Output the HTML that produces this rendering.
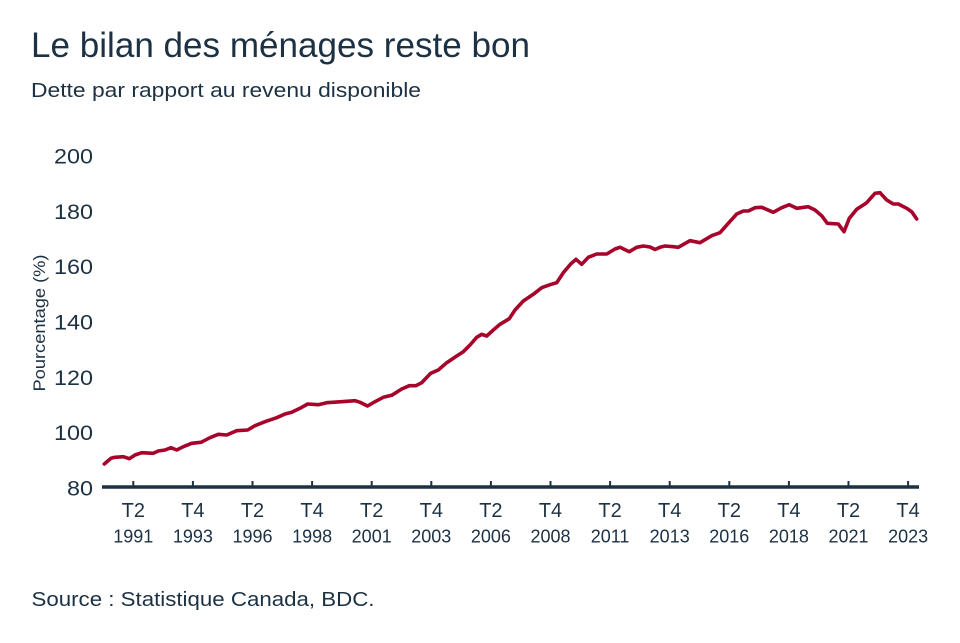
<!DOCTYPE html>
<html>
<head>
<meta charset="utf-8">
<style>
html,body{margin:0;padding:0;background:#fff;}
svg{display:block;}
text{font-family:"Liberation Sans",sans-serif;fill:#1c3143;}
</style>
</head>
<body>
<svg width="960" height="643" viewBox="0 0 960 643" xmlns="http://www.w3.org/2000/svg">
<rect width="960" height="643" fill="#fff"/>
<text x="31" y="57" font-size="35" textLength="499" lengthAdjust="spacingAndGlyphs">Le bilan des ménages reste bon</text>
<text x="31" y="97" font-size="20" textLength="390" lengthAdjust="spacingAndGlyphs">Dette par rapport au revenu disponible</text>

<g font-size="21" text-anchor="end">
<text x="93" y="163.5" textLength="39" lengthAdjust="spacingAndGlyphs">200</text>
<text x="93" y="218.8" textLength="39" lengthAdjust="spacingAndGlyphs">180</text>
<text x="93" y="274.2" textLength="39" lengthAdjust="spacingAndGlyphs">160</text>
<text x="93" y="329.5" textLength="39" lengthAdjust="spacingAndGlyphs">140</text>
<text x="93" y="384.8" textLength="39" lengthAdjust="spacingAndGlyphs">120</text>
<text x="93" y="440.2" textLength="39" lengthAdjust="spacingAndGlyphs">100</text>
<text x="93" y="495.5" textLength="26" lengthAdjust="spacingAndGlyphs">80</text>
</g>

<text transform="translate(45,323) rotate(-90)" font-size="17" text-anchor="middle" textLength="137" lengthAdjust="spacingAndGlyphs">Pourcentage (%)</text>

<line x1="102" y1="487" x2="919" y2="487" stroke="#1c3143" stroke-width="3.5"/>
<g stroke="#1c3143" stroke-width="2">
<line x1="133.3" y1="481" x2="133.3" y2="487"/>
<line x1="192.9" y1="481" x2="192.9" y2="487"/>
<line x1="252.5" y1="481" x2="252.5" y2="487"/>
<line x1="312.1" y1="481" x2="312.1" y2="487"/>
<line x1="371.7" y1="481" x2="371.7" y2="487"/>
<line x1="431.3" y1="481" x2="431.3" y2="487"/>
<line x1="490.9" y1="481" x2="490.9" y2="487"/>
<line x1="550.5" y1="481" x2="550.5" y2="487"/>
<line x1="610.1" y1="481" x2="610.1" y2="487"/>
<line x1="669.7" y1="481" x2="669.7" y2="487"/>
<line x1="729.3" y1="481" x2="729.3" y2="487"/>
<line x1="788.9" y1="481" x2="788.9" y2="487"/>
<line x1="848.5" y1="481" x2="848.5" y2="487"/>
<line x1="908.1" y1="481" x2="908.1" y2="487"/>
</g>

<g font-size="20" text-anchor="middle">
<text x="133.3" y="517">T2</text>
<text x="192.9" y="517">T4</text>
<text x="252.5" y="517">T2</text>
<text x="312.1" y="517">T4</text>
<text x="371.7" y="517">T2</text>
<text x="431.3" y="517">T4</text>
<text x="490.9" y="517">T2</text>
<text x="550.5" y="517">T4</text>
<text x="610.1" y="517">T2</text>
<text x="669.7" y="517">T4</text>
<text x="729.3" y="517">T2</text>
<text x="788.9" y="517">T4</text>
<text x="848.5" y="517">T2</text>
<text x="908.1" y="517">T4</text>
</g>
<g font-size="18" text-anchor="middle">
<text x="133.3" y="542.5">1991</text>
<text x="192.9" y="542.5">1993</text>
<text x="252.5" y="542.5">1996</text>
<text x="312.1" y="542.5">1998</text>
<text x="371.7" y="542.5">2001</text>
<text x="431.3" y="542.5">2003</text>
<text x="490.9" y="542.5">2006</text>
<text x="550.5" y="542.5">2008</text>
<text x="610.1" y="542.5">2011</text>
<text x="669.7" y="542.5">2013</text>
<text x="729.3" y="542.5">2016</text>
<text x="788.9" y="542.5">2018</text>
<text x="848.5" y="542.5">2021</text>
<text x="908.1" y="542.5">2023</text>
</g>

<polyline fill="none" stroke="#a6042b" stroke-width="3.6" stroke-linejoin="round" stroke-linecap="round" points="
104.3,464 111,458.3 115,457.3 123.3,456.7 129.3,458.7 135,455 141.7,452.7 153.3,453.3 158.3,451 165,450 171,447.7 176.7,450 183.3,446.7 191.7,443.3 201,442.3 210,437.7 218.3,434.3 226.7,435 236.7,430.7 247.7,430 255,425.7 265,421.7 276.7,417.7 285,414 291.7,412.3 300,408.3 307.7,404 318.3,404.7 326.7,402.7 341.7,401.7 355,400.7 360,402.3 367.5,406 375,401.7 383.3,397.3 391.7,395.3 401.7,389 409.3,385.7 416,385.7 421.7,382.7 430.7,373.3 438.3,370 446.7,362.7 456.7,356 463.3,351.7 470,345 476.7,337.3 481.7,334.3 486.7,336 493.3,330 500,324.3 509.3,318.7 515,310 523.3,301 533.3,294.3 541.7,287.7 550,284.7 556.7,282.7 563.3,272.7 570.7,264 576,259.3 581.7,264.3 588.3,257.3 596.7,254 606.7,254 615,249 620,247.3 629.3,251.7 636.7,247.3 643.3,246 650,247 655,249.5 660,247.3 665,246 673.3,246.7 678.3,247.3 690,240.7 700,242.7 711.7,235.7 720,232.7 728.3,223.3 736.7,214 743.3,211 748.3,211 755,207.7 761.7,207.3 773.3,212.3 781.7,207.7 789.3,204.7 796.7,208.3 808.3,206.7 815,210 821.7,215.7 827.3,223.3 838.3,224 844,231.7 849.3,218.3 856.7,209.3 866.7,202.7 875,193.3 880,192.7 886.7,200 893.3,204 898.3,204 906.7,208.3 911.7,211.7 916.7,219"/>

<text x="31.5" y="606" font-size="20" textLength="343" lengthAdjust="spacingAndGlyphs">Source : Statistique Canada, BDC.</text>
</svg>
</body>
</html>
